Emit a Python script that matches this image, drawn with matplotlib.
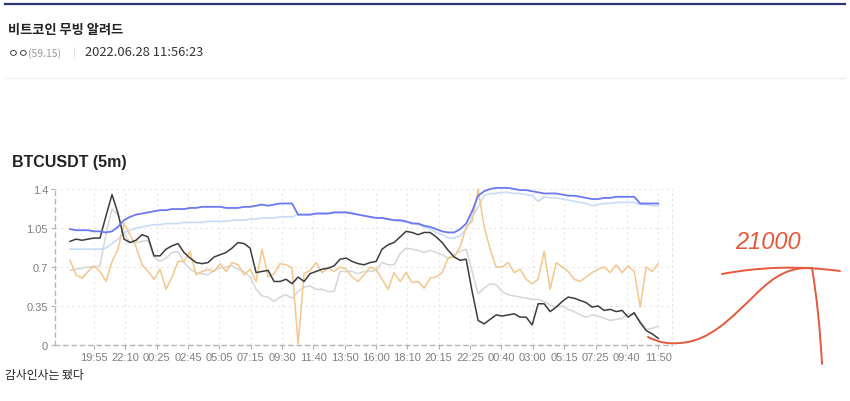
import numpy as np
import matplotlib
matplotlib.use("Agg")
from matplotlib import pyplot as plt
from matplotlib.lines import Line2D
from matplotlib.path import Path
from matplotlib.patches import PathPatch

plt.rcParams['font.family'] = ['Liberation Sans', 'Noto Sans CJK KR', 'DejaVu Sans']

# tick labels of the 5m chart
tick_labels = ['19:55', '22:10', '00:25', '02:45', '05:05', '07:15', '09:30', '11:40',
               '13:50', '16:00', '18:10', '20:15', '22:25', '00:40', '03:00', '05:15',
               '07:25', '09:40', '11:50']
y_ticks = [0, 0.35, 0.7, 1.05, 1.4]
y_tick_labels = ['0', '0.35', '0.7', '1.05', '1.4']

# series values
blue = [1.04, 1.03, 1.03, 1.03, 1.02, 1.02, 1.01, 1.02, 1.06, 1.12,
        1.15, 1.17, 1.18, 1.19, 1.20, 1.21, 1.21, 1.22, 1.22, 1.22,
        1.23, 1.23, 1.24, 1.24, 1.24, 1.24, 1.23, 1.23, 1.23, 1.24,
        1.24, 1.25, 1.26, 1.25, 1.26, 1.27, 1.27, 1.27, 1.17, 1.17,
        1.17, 1.18, 1.18, 1.18, 1.19, 1.19, 1.19, 1.18, 1.17, 1.16,
        1.15, 1.14, 1.14, 1.13, 1.12, 1.12, 1.11, 1.09, 1.09, 1.07,
        1.06, 1.04, 1.02, 1.01, 1.01, 1.04, 1.09, 1.20, 1.34, 1.38,
        1.40, 1.41, 1.41, 1.41, 1.40, 1.39, 1.39, 1.38, 1.37, 1.36,
        1.36, 1.36, 1.35, 1.34, 1.34, 1.33, 1.32, 1.31, 1.31, 1.32,
        1.32, 1.33, 1.33, 1.33, 1.33, 1.27, 1.27, 1.27, 1.27]

light_blue = [0.86, 0.86, 0.86, 0.86, 0.86, 0.86, 0.87, 0.91, 0.95, 1.01,
              1.03, 1.05, 1.06, 1.07, 1.08, 1.08, 1.09, 1.09, 1.09, 1.10,
              1.10, 1.10, 1.10, 1.11, 1.11, 1.11, 1.11, 1.12, 1.12, 1.12,
              1.13, 1.13, 1.14, 1.14, 1.14, 1.15, 1.15, 1.15, 1.17, 1.17,
              1.17, 1.18, 1.18, 1.18, 1.19, 1.19, 1.19, 1.19, 1.17, 1.16,
              1.15, 1.14, 1.14, 1.13, 1.12, 1.11, 1.10, 1.10, 1.08, 1.06,
              1.04, 1.01, 0.99, 0.96, 0.96, 0.98, 1.04, 1.15, 1.24, 1.34,
              1.36, 1.36, 1.37, 1.37, 1.36, 1.36, 1.35, 1.34, 1.29, 1.33,
              1.32, 1.32, 1.31, 1.30, 1.29, 1.28, 1.27, 1.25, 1.26, 1.27,
              1.27, 1.28, 1.28, 1.28, 1.28, 1.26, 1.26, 1.25, 1.25]

black = [0.93, 0.95, 0.94, 0.95, 0.96, 0.96, 1.16, 1.35, 1.18, 0.95,
         0.92, 0.94, 0.99, 0.97, 0.80, 0.80, 0.86, 0.89, 0.91, 0.83,
         0.78, 0.74, 0.73, 0.74, 0.79, 0.81, 0.83, 0.87, 0.92, 0.91,
         0.87, 0.65, 0.66, 0.67, 0.57, 0.57, 0.59, 0.55, 0.61, 0.57,
         0.64, 0.66, 0.68, 0.69, 0.71, 0.77, 0.78, 0.75, 0.73, 0.72,
         0.74, 0.75, 0.86, 0.90, 0.92, 0.97, 1.02, 1.01, 0.99, 1.01,
         1.01, 0.97, 0.92, 0.85, 0.79, 0.76, 0.77, 0.48, 0.22, 0.19,
         0.23, 0.27, 0.26, 0.27, 0.28, 0.25, 0.25, 0.18, 0.37, 0.37,
         0.30, 0.34, 0.39, 0.43, 0.42, 0.40, 0.38, 0.34, 0.35, 0.31,
         0.32, 0.30, 0.31, 0.25, 0.29, 0.20, 0.13, 0.10, 0.06]

light_gray = [0.67, 0.68, 0.69, 0.70, 0.70, 0.71, 1.00, 1.22, 1.17, 1.00,
              0.92, 0.92, 0.93, 0.94, 0.79, 0.75, 0.78, 0.83, 0.84, 0.74,
              0.68, 0.65, 0.64, 0.63, 0.67, 0.69, 0.70, 0.71, 0.68, 0.66,
              0.61, 0.50, 0.44, 0.43, 0.39, 0.43, 0.45, 0.42, 0.48, 0.52,
              0.53, 0.50, 0.50, 0.48, 0.48, 0.66, 0.66, 0.66, 0.64, 0.66,
              0.66, 0.67, 0.74, 0.72, 0.72, 0.82, 0.87, 0.86, 0.85, 0.83,
              0.85, 0.83, 0.81, 0.78, 0.81, 0.84, 0.86, 0.66, 0.46, 0.51,
              0.55, 0.54, 0.48, 0.45, 0.44, 0.43, 0.42, 0.41, 0.41, 0.39,
              0.36, 0.34, 0.35, 0.32, 0.30, 0.27, 0.25, 0.27, 0.26, 0.24,
              0.22, 0.23, 0.24, 0.28, 0.27, 0.22, 0.14, 0.15, 0.17]

orange = [0.76, 0.63, 0.60, 0.66, 0.71, 0.66, 0.57, 0.75, 0.86, 1.09,
          0.99, 0.88, 0.72, 0.66, 0.59, 0.68, 0.50, 0.61, 0.75, 0.75,
          0.84, 0.63, 0.66, 0.68, 0.66, 0.73, 0.66, 0.74, 0.72, 0.63,
          0.68, 0.57, 0.86, 0.61, 0.64, 0.73, 0.72, 0.69, 0.01, 0.64,
          0.67, 0.74, 0.65, 0.69, 0.66, 0.70, 0.68, 0.61, 0.57, 0.63,
          0.70, 0.68, 0.59, 0.50, 0.65, 0.57, 0.65, 0.56, 0.57, 0.51,
          0.60, 0.61, 0.65, 0.78, 0.79, 0.88, 1.06, 1.11, 1.40, 1.06,
          0.86, 0.70, 0.70, 0.74, 0.65, 0.68, 0.59, 0.55, 0.59, 0.84,
          0.50, 0.74, 0.70, 0.66, 0.59, 0.57, 0.61, 0.65, 0.68, 0.70,
          0.65, 0.72, 0.65, 0.71, 0.66, 0.34, 0.70, 0.66, 0.73]

# hand drawn red scribble (screen pixels, bezier control points)
scribble_curve = [(648, 338), (660, 344), (668, 345), (680, 344),
                  (710, 342), (730, 320), (755, 296),
                  (775, 276), (790, 268), (812, 269)]
scribble_top = [(722, 275), (780, 264), (840, 272)]
scribble_drop = [(812, 269), (819, 310), (822, 365)]

W, H = 850, 402


def fx(x):
    return x / W


def fy(y):
    return 1 - y / H


fig = plt.figure(figsize=(8.5, 4.02), dpi=100)
fig.patch.set_facecolor('white')

kr = ['Noto Sans CJK KR', 'DejaVu Sans']

# page header
fig.add_artist(Line2D([fx(5), fx(845)], [fy(5), fy(5)], color='#2b3674', lw=1.6))
fig.text(fx(8), fy(30), '비트코인 무빙 알려드', fontsize=9.5, fontweight='bold',
         color='#222222', family=kr, va='center')
fig.text(fx(8), fy(53), 'ㅇㅇ', fontsize=8.5, color='#333333', family=kr, va='center')
fig.text(fx(28), fy(54), '(59.15)', fontsize=7.5, color='#999999', family=kr, va='center')
fig.text(fx(73), fy(53), '|', fontsize=8, color='#dddddd', family=kr, va='center')
fig.text(fx(85), fy(53), '2022.06.28 11:56:23', fontsize=9.3, color='#333333',
         family=kr, va='center')
fig.add_artist(Line2D([fx(5), fx(845)], [fy(79), fy(79)], color='#ececec', lw=0.8))

fig.text(fx(12), fy(162), 'BTCUSDT (5m)', fontsize=11.5, fontweight='bold',
         color='#222222', va='center')
fig.text(fx(5), fy(376), '감사인사는 됐다', fontsize=8.5, color='#222222',
         family=kr, va='center')

# chart
ax = fig.add_axes([fx(55), fy(346), fx(672) - fx(55), fy(190) - fy(346)])
x = np.arange(len(blue))
ax.plot(x, light_gray, color='#d6d6d6', lw=1.1, clip_on=False)
ax.plot(x, light_blue, color='#c9dcf6', lw=1.2, clip_on=False)
ax.plot(x, orange, color='#f5c68a', lw=1.1, clip_on=False)
ax.plot(x, black, color='#3c3c3c', lw=1.1, clip_on=False)
ax.plot(x, blue, color='#6b78f0', lw=1.3, clip_on=False)

ax.set_xlim(-2.5, 100.3)
ax.set_ylim(0, 1.4)
ax.set_xticks(np.linspace(4, 98, len(tick_labels)))
ax.set_xticklabels(tick_labels)
ax.set_yticks(y_ticks)
ax.set_yticklabels(y_tick_labels)
ax.tick_params(colors='#b0b0b0', labelcolor='#7f7f7f', labelsize=8, length=3,
               width=0.8, pad=2)

ax.grid(True, color='#e6e6e6', linestyle=(0, (2, 3)), lw=0.8)
ax.set_axisbelow(True)
for side in ['left', 'bottom']:
    ax.spines[side].set_color('#b5b5b5')
    ax.spines[side].set_linestyle((0, (3, 3)))
    ax.spines[side].set_linewidth(1.0)
ax.spines['top'].set_visible(False)
ax.spines['right'].set_color('#e6e6e6')
ax.spines['right'].set_linestyle((0, (2, 3)))
ax.spines['right'].set_linewidth(0.8)

# red scribble on top of everything
over = fig.add_axes([0, 0, 1, 1])
over.set_xlim(0, W)
over.set_ylim(H, 0)
over.axis('off')
over.patch.set_alpha(0)
red = '#e5583c'
curve_codes = [Path.MOVETO] + [Path.CURVE4] * 9
over.add_patch(PathPatch(Path(scribble_curve, curve_codes), fill=False,
                         edgecolor=red, lw=1.4, capstyle='round'))
quad_codes = [Path.MOVETO, Path.CURVE3, Path.CURVE3]
over.add_patch(PathPatch(Path(scribble_top, quad_codes), fill=False,
                         edgecolor=red, lw=1.4, capstyle='round'))
over.add_patch(PathPatch(Path(scribble_drop, quad_codes), fill=False,
                         edgecolor=red, lw=1.4, capstyle='round'))
over.text(768, 243, '21000', color=red, fontsize=17, fontweight='light',
          ha='center', va='center', fontstyle='italic')

fig.savefig('out.png', dpi=100)
